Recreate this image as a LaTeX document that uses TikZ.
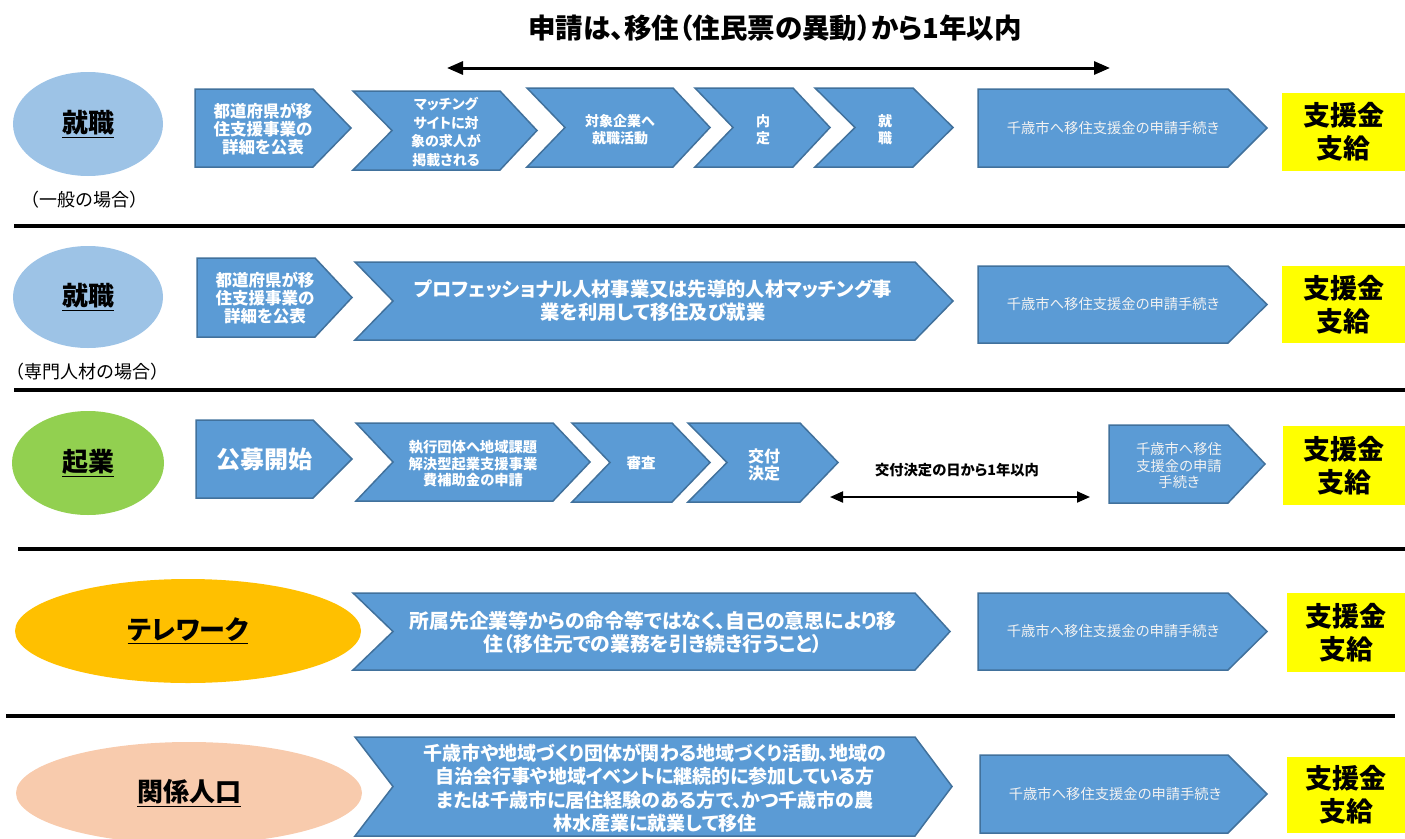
\documentclass[tikz,border=0pt]{standalone}
\usepackage{fontspec}
\setmainfont{Noto Sans CJK JP}[RawFeature=+palt]
\newfontfamily\plainjp{Noto Sans CJK JP}
\usetikzlibrary{arrows.meta,shapes.geometric}
\definecolor{chevfill}{HTML}{5B9BD5}
\definecolor{chevline}{HTML}{41719C}
\definecolor{lblue}{HTML}{9DC3E6}
\definecolor{lgreen}{HTML}{92D050}
\definecolor{lorange}{HTML}{FFC000}
\definecolor{lpeach}{HTML}{F8CBAD}
\definecolor{yel}{HTML}{FFFF00}
\definecolor{paletext}{HTML}{F2F2F2}
\newcommand\chev[6]{\filldraw[chevshape] (#1,#5) -- (#3,#5) -- (#4,{(#5+#6)/2}) -- (#3,#6) -- (#1,#6) -- (#2,{(#5+#6)/2}) -- cycle;}
\newcommand\fs[2]{\fontsize{#1}{#2}\selectfont}
\tikzset{
  chevshape/.style={fill=chevfill,draw=chevline,line width=1.5pt},
  wtxt/.style={text=white,align=center,inner sep=0pt,font=\bfseries},
  ptxt/.style={text=paletext,align=center,inner sep=0pt},
  yelbox/.style={fill=yel,draw=none,inner sep=0pt,align=center,font=\bfseries\fs{27}{33}},
  oval/.style={ellipse,inner sep=0pt,draw=none,font=\bfseries\fs{26}{30}},
  sepline/.style={line width=3.5pt,black},
  span/.style={line width=#1,{Triangle[length=16pt,width=13pt]}-{Triangle[length=16pt,width=13pt]}},
}
\begin{document}
\begin{tikzpicture}[x=1pt,y=-1pt]
\useasboundingbox (0,0) rectangle (1405,838);
% title
\node[font=\bfseries\fs{27.5}{30}] (title) at (775,28) {申請は、移住（住民票の異動）から1年以内};
\coordinate (tA) at (447,68);
\coordinate (tB) at (1110,68);
\draw[span=3pt] (tA) -- (tB);
% separators
\draw[sepline] (14,226) -- (1405,226);
\draw[sepline] (14,390) -- (1405,390);
\draw[sepline] (18,549) -- (1405,549);
\draw[sepline] (6,716) -- (1395,716);

% ===== row 1
\node[oval,fill=lblue,minimum width=150pt,minimum height=104pt] (o1) at (88,124) {\underline{就職}};
\node[font=\plainjp\fs{18}{20}] (o1s) at (84,200) {（一般の場合）};
\chev{195}{195}{313}{351}{89}{167}
\node[wtxt,font=\bfseries\fs{16.5}{18}] (a1) at (263,129) {都道府県が移\\住支援事業の\\詳細を公表};
\chev{353}{392}{500}{537}{91}{170}
\node[wtxt,font=\bfseries\fs{14}{18.5}] (a2) at (446,132) {マッチング\\サイトに対\\象の求人が\\掲載される};
\chev{527}{565}{673}{710}{88}{167}
\node[wtxt,font=\bfseries\fs{14}{17}] (a3) at (620,130) {対象企業へ\\就職活動};
\chev{695}{733}{793}{830}{88}{167}
\node[wtxt,font=\bfseries\fs{14}{17}] (a4) at (763,130) {内\\定};
\chev{815}{855}{913}{953}{88}{167}
\node[wtxt,font=\bfseries\fs{14}{17}] (a5) at (885,130) {就\\職};
\chev{978}{978}{1228}{1267}{89}{167}
\node[ptxt,font=\fs{14.3}{16}] (a6) at (1113,128) {千歳市へ移住支援金の申請手続き};
\node[yelbox,minimum width=123pt,minimum height=78pt] (a7) at (1343.5,132) {支援金\\支給};

% ===== row 2
\node[oval,fill=lblue,minimum width=150pt,minimum height=102pt] (o2) at (88,297) {\underline{就職}};
\node[font=\plainjp\fs{18}{20}] (o2s) at (87,372) {（専門人材の場合）};
\chev{197}{197}{315}{352}{258}{337}
\node[wtxt,font=\bfseries\fs{16.5}{18}] (b1) at (265,298) {都道府県が移\\住支援事業の\\詳細を公表};
\chev{355}{393}{915}{953}{262}{340}
\node[wtxt,font=\bfseries\fs{19.3}{23}] (b2) at (653,300) {プロフェッショナル人材事業又は先導的人材マッチング事\\業を利用して移住及び就業};
\chev{978}{978}{1228}{1267}{266}{343}
\node[ptxt,font=\fs{14.3}{16}] (b3) at (1113,304) {千歳市へ移住支援金の申請手続き};
\node[yelbox,minimum width=123pt,minimum height=77pt] (b4) at (1343.5,304.5) {支援金\\支給};

% ===== row 3
\node[oval,fill=lgreen,minimum width=152pt,minimum height=104pt] (o3) at (88,463) {\underline{起業}};
\chev{196}{196}{313}{352}{420}{498}
\node[wtxt,font=\bfseries\fs{24}{26}] (c1) at (264,459) {公募開始};
\chev{356}{393}{553}{590}{423}{501}
\node[wtxt,font=\bfseries\fs{14.3}{16.5}] (c2) at (473,464) {執行団体へ地域課題\\解決型起業支援事業\\費補助金の申請};
\chev{572}{610}{672}{710}{423}{502}
\node[wtxt,font=\bfseries\fs{14.5}{17}] (c3) at (641,463) {審査};
\chev{688}{727}{800}{838}{423}{502}
\node[wtxt,font=\bfseries\fs{16}{17}] (c4) at (764,465) {交付\\決定};
\node[font=\bfseries\fs{14.3}{16}] (c5) at (957,470) {交付決定の日から1年以内};
\coordinate (cA) at (830,497);
\coordinate (cB) at (1090,497);
\draw[line width=2pt,{Triangle[length=13pt,width=11pt]}-{Triangle[length=13pt,width=11pt]}] (cA) -- (cB);
\chev{1109}{1109}{1228}{1265}{425}{503}
\node[ptxt,font=\fs{14.3}{16.5}] (c6) at (1179,466) {千歳市へ移住\\支援金の申請\\手続き};
\node[yelbox,minimum width=122pt,minimum height=79pt] (c7) at (1344,465.5) {支援金\\支給};

% ===== row 4
\node[oval,fill=lorange,minimum width=346pt,minimum height=104pt] (o4) at (188,631) {\underline{テレワーク}};
\chev{353}{393}{915}{950}{593}{670}
\node[wtxt,font=\bfseries\fs{19.8}{23}] (d1) at (653,632) {所属先企業等からの命令等ではなく、自己の意思により移\\住（移住元での業務を引き続き行うこと）};
\chev{978}{978}{1228}{1267}{593}{670}
\node[ptxt,font=\fs{14.3}{16}] (d2) at (1113,631) {千歳市へ移住支援金の申請手続き};
\node[yelbox,minimum width=118pt,minimum height=79pt] (d3) at (1346,632.5) {支援金\\支給};

% ===== row 5
\node[oval,fill=lpeach,minimum width=346pt,minimum height=102pt] (o5) at (189,793) {\underline{関係人口}};
\chev{355}{393}{915}{952}{737}{836}
\node[wtxt,font=\bfseries\fs{19}{23.5}] (e1) at (655,788) {千歳市や地域づくり団体が関わる地域づくり活動、地域の\\自治会行事や地域イベントに継続的に参加している方\\または千歳市に居住経験のある方で、かつ千歳市の農\\林水産業に就業して移住};
\chev{980}{980}{1228}{1267}{755}{833}
\node[ptxt,font=\fs{14.3}{16}] (e2) at (1115,794) {千歳市へ移住支援金の申請手続き};
\node[yelbox,minimum width=118pt,minimum height=76pt] (e3) at (1346,795) {支援金\\支給};
\end{tikzpicture}
\end{document}
